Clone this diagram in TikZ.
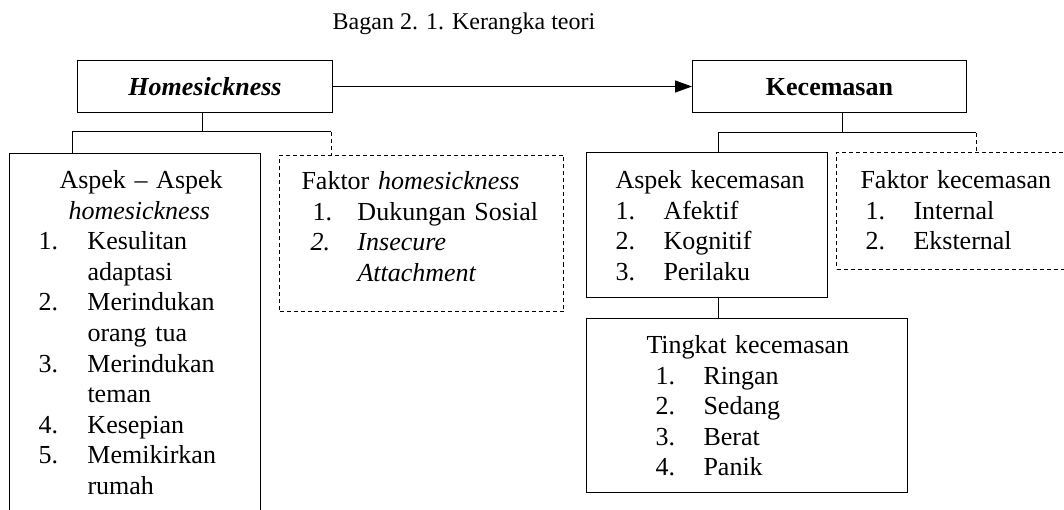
\documentclass[tikz,border=0pt]{standalone}
\usepackage{fontspec}
\setmainfont{Liberation Serif}
\usetikzlibrary{arrows.meta,%
                positioning}

\newcommand{\nmr}[3]{\hspace*{#1}\makebox[#2][l]{#3}}

\begin{document}
\begin{tikzpicture}[x=1pt, y=-1pt,
utama/.style={rectangle, draw=black, anchor=north west, inner sep=0pt,
text height=35pt, text depth=17pt, align=center,
font=\fontsize{26}{30.6}\selectfont\bfseries},
%
kotak/.style={rectangle, draw=black, anchor=north west, inner sep=0pt,
align=left, font=\fontsize{26}{30.6}\selectfont},
%
faktor/.style={kotak, dash pattern=on 4pt off 3pt},
%
keterangan/.style={anchor=base, inner sep=0pt,
font=\fontsize{24}{28}\selectfont}]

\tikzset{every path/.style={line width=1pt}}

\useasboundingbox (0,0) rectangle (1064,510);

\node[keterangan] (judul) at (464,30) {Bagan 2. 1. Kerangka teori};

%%%%%%%%%%%%%%%%%%%%%%%%%%%%%%%%%%
\node[utama, minimum width=255pt] (hs) at (77,60) {\textit{Homesickness}};
\node[utama, minimum width=274pt] (kc) at (692,60) {Kecemasan};

%%%%%%%%%%%%%%%%%%%%%%%%%%%%%%%%%%
\node[kotak, text width=251pt, text height=35pt, text depth=342pt] (aspekH) at (9,153){
  \hspace*{50pt}Aspek -- Aspek\\
  \hspace*{59pt}\textit{homesickness}\\
  \nmr{29pt}{49pt}{1.}Kesulitan\\
  \hspace*{78pt}adaptasi\\
  \nmr{29pt}{49pt}{2.}Merindukan\\
  \hspace*{78pt}orang tua\\
  \nmr{29pt}{49pt}{3.}Merindukan\\
  \hspace*{78pt}teman\\
  \nmr{29pt}{49pt}{4.}Kesepian\\
  \nmr{29pt}{49pt}{5.}Memikirkan\\
  \hspace*{78pt}rumah};

\node[faktor, text width=284pt, text height=34pt, text depth=122pt] (faktorH) at (279,155){
  \hspace*{22pt}Faktor \textit{homesickness}\\
  \nmr{33pt}{45pt}{1.}Dukungan Sosial\\
  \nmr{31pt}{47pt}{\textit{2.}}\textit{Insecure}\\
  \hspace*{78pt}\textit{Attachment}};

%%%%%%%%%%%%%%%%%%%%%%%%%%%%%%%%%%
\node[kotak, text width=241pt, text height=36pt, text depth=109pt] (aspekK) at (586,152){
  \hspace*{29pt}Aspek kecemasan\\
  \nmr{29pt}{48pt}{1.}Afektif\\
  \nmr{29pt}{48pt}{2.}Kognitif\\
  \nmr{29pt}{48pt}{3.}Perilaku};

\node[faktor, text width=240pt, text height=36pt, text depth=81pt] (faktorK) at (836,152){
  \hspace*{24pt}Faktor kecemasan\\
  \nmr{29pt}{48pt}{1.}Internal\\
  \nmr{29pt}{48pt}{2.}Eksternal};

\node[kotak, text width=321pt, text height=35pt, text depth=139pt] (tingkat) at (586,318){
  \hspace*{60pt}Tingkat kecemasan\\
  \nmr{69pt}{48pt}{1.}Ringan\\
  \nmr{69pt}{48pt}{2.}Sedang\\
  \nmr{69pt}{48pt}{3.}Berat\\
  \nmr{69pt}{48pt}{4.}Panik};

%%%%%%%%%%%%%%%%%%%%%%%%%%%%%%%%%%
\coordinate (hsTengah) at (202,132);
\coordinate (hsKiri) at (72,132);
\coordinate (hsKanan) at (331,132);
\coordinate (kcTengah) at (842,133);
\coordinate (kcKiri) at (718,133);
\coordinate (kcKanan) at (976,133);

\begin{scope}
  \draw[-{Triangle[length=17pt,width=12pt]}] (hs.east) -- (kc.west);
  %%%%%%%%%%%%%%%%%%%%%%%%%%%%%%%%%%%%%
  \draw (hsTengah |- hs.south) -- (hsTengah);
  \draw (aspekH.north -| hsKiri) -- (hsKiri) -- (hsKanan);
  \draw[dash pattern=on 4pt off 3pt] (hsKanan) -- (hsKanan |- faktorH.north);
  %%%%%%%%%%%%%%%%%%%%%%%%%%%%%%%%%%%%
  \draw (kcTengah |- kc.south) -- (kcTengah);
  \draw (aspekK.north -| kcKiri) -- (kcKiri) -- (kcKanan);
  \draw[dash pattern=on 4pt off 3pt] (kcKanan) -- (kcKanan |- faktorK.north);
  \draw (aspekK.south -| kcKiri) -- (tingkat.north -| kcKiri);
\end{scope}

\end{tikzpicture}
\end{document}
